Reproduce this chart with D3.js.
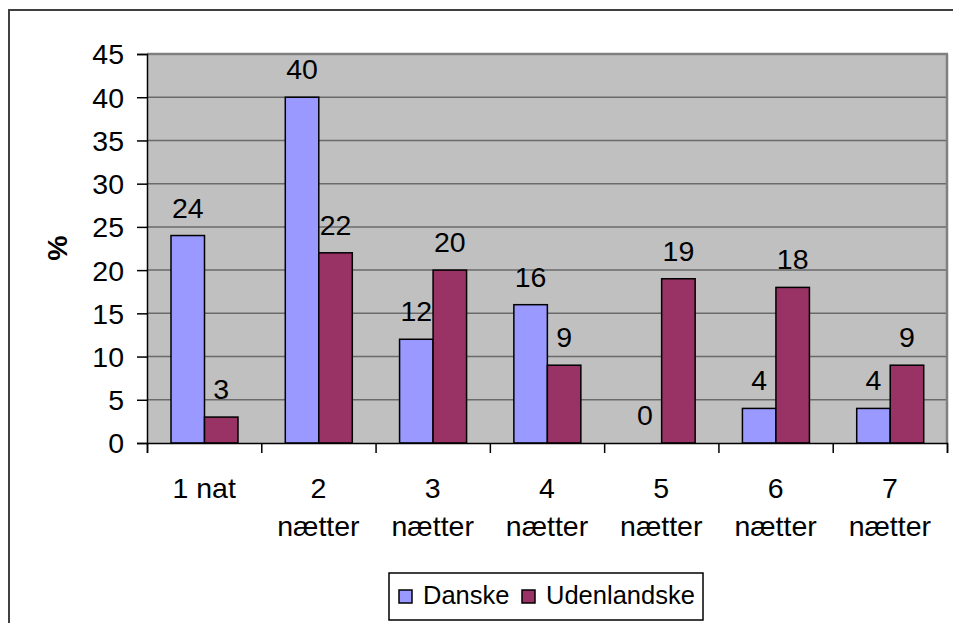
<!DOCTYPE html>
<html><head><meta charset="utf-8">
<script src="https://cdn.jsdelivr.net/npm/d3@7"></script>
<style>body{margin:0;background:#fff}svg{display:block;font-family:"Liberation Sans",Arial,sans-serif}</style>
</head><body><svg id="c" width="953" height="623"></svg>
<script>
const categories = [["1 nat"],["2","nætter"],["3","nætter"],["4","nætter"],["5","nætter"],["6","nætter"],["7","nætter"]];
const seriesNames = ["Danske","Udenlandske"];
const danske = [24,40,12,16,0,4,4];
const udenlandske = [3,22,20,9,19,18,9];
const yTicks = [0,5,10,15,20,25,30,35,40,45];
const colors = ["#9999FF","#993366"];

const svg = d3.select("#c");
const L=147, R=947, T=54, B=443, FS=28.5;
svg.append("rect").attr("x",9).attr("y",10).attr("width",960).attr("height",640)
  .attr("fill","#fff").attr("stroke","#404040").attr("stroke-width",2);

const x = d3.scaleBand().domain(d3.range(categories.length)).range([L,R]);
const y = d3.scaleLinear().domain([0,45]).range([B,T]);

svg.append("rect").attr("x",L).attr("y",T).attr("width",R-L).attr("height",B-T).attr("fill","#C0C0C0");
svg.append("g").selectAll("line").data(yTicks.filter(d=>d>0)).join("line")
  .attr("x1",L).attr("x2",R).attr("y1",d=>y(d)).attr("y2",d=>y(d))
  .attr("stroke","#6a6a6a").attr("stroke-width",1.5);
svg.append("line").attr("x1",L).attr("x2",R+1).attr("y1",T).attr("y2",T).attr("stroke","#808080").attr("stroke-width",2.5);
svg.append("line").attr("x1",R).attr("x2",R).attr("y1",T).attr("y2",B).attr("stroke","#808080").attr("stroke-width",2.5);

const bw = 33.5, off = 24;
const data = [danske, udenlandske];
data.forEach((vals,si)=>{
  const g = svg.append("g");
  g.selectAll("rect").data(vals).join("rect")
    .attr("x",(d,i)=>x(i)+off+si*bw).attr("width",bw)
    .attr("y",d=>y(d)).attr("height",d=>B-y(d))
    .attr("fill",colors[si]).attr("stroke",d=>d>0?"#000":"none").attr("stroke-width",1.5);
  g.selectAll("text").data(vals).join("text")
    .attr("x",(d,i)=>x(i)+off+si*bw+bw/2).attr("y",d=>y(d)-18)
    .attr("text-anchor","middle").attr("font-size",FS).text(d=>d);
});

const ya = d3.axisLeft(y).tickValues(yTicks).tickSize(10).tickPadding(13);
const yg = svg.append("g").attr("transform",`translate(${L},0)`).call(ya);
yg.select(".domain").attr("stroke","#000").attr("stroke-width",1.5);
yg.selectAll(".tick line").attr("stroke","#000").attr("stroke-width",1.5);
yg.selectAll(".tick text").attr("font-size",FS).attr("fill","#000").attr("dy","0.35em").attr("font-family","Liberation Sans, Arial, sans-serif");

const xb = d3.scaleLinear().domain([0,categories.length]).range([L,R]);
const xa = d3.axisBottom(xb).tickValues(d3.range(categories.length+1)).tickSize(10).tickFormat("");
const xg = svg.append("g").attr("transform",`translate(0,${B})`).call(xa);
xg.select(".domain").attr("stroke","#000").attr("stroke-width",1.5);
xg.selectAll(".tick line").attr("stroke","#000").attr("stroke-width",1.5);

const lab = svg.append("g").selectAll("text").data(categories).join("text")
  .attr("text-anchor","middle").attr("font-size",FS);
lab.each(function(d,i){
  const t=d3.select(this);
  d.forEach((s,k)=>t.append("tspan").attr("x",x(i)+x.bandwidth()/2).attr("y",498+k*38).text(s));
});

svg.append("text").attr("transform","translate(67,248) rotate(-90)")
  .attr("text-anchor","middle").attr("font-size",FS).attr("font-weight","bold").text("%");

const lg = svg.append("g");
lg.append("rect").attr("x",389).attr("y",573).attr("width",314).attr("height",47)
  .attr("fill","#fff").attr("stroke","#000").attr("stroke-width",1.5);
const lx=[399,522];
seriesNames.forEach((n,i)=>{
  lg.append("rect").attr("x",lx[i]).attr("y",590).attr("width",13).attr("height",13)
    .attr("fill",colors[i]).attr("stroke","#000").attr("stroke-width",1.5);
  lg.append("text").attr("x",lx[i]+24).attr("y",604).attr("font-size",25.5).text(n);
});
</script></body></html>
